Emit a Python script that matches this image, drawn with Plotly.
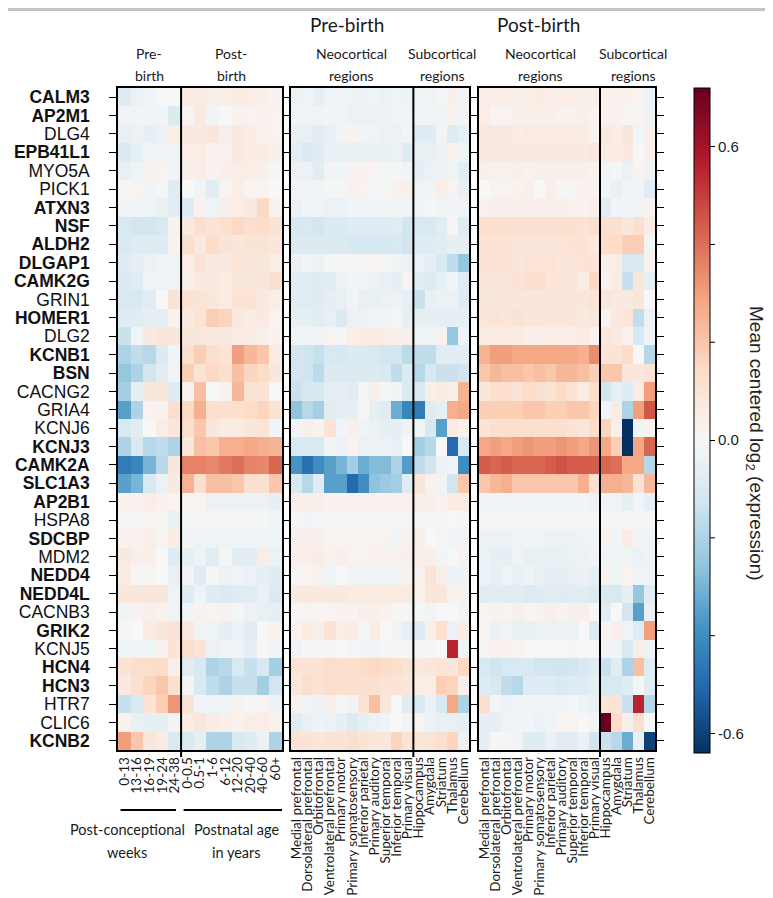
import plotly.graph_objects as go

genes = ["CALM3","AP2M1","DLG4","EPB41L1","MYO5A","PICK1","ATXN3","NSF","ALDH2","DLGAP1",
         "CAMK2G","GRIN1","HOMER1","DLG2","KCNB1","BSN","CACNG2","GRIA4","KCNJ6","KCNJ3",
         "CAMK2A","SLC1A3","AP2B1","HSPA8","SDCBP","MDM2","NEDD4","NEDD4L","CACNB3","GRIK2",
         "KCNJ5","HCN4","HCN3","HTR7","CLIC6","KCNB2"]
bold_genes = {"CALM3","AP2M1","EPB41L1","ATXN3","NSF","ALDH2","DLGAP1","CAMK2G","HOMER1",
              "KCNB1","BSN","KCNJ3","CAMK2A","SLC1A3","AP2B1","SDCBP","NEDD4","NEDD4L",
              "GRIK2","HCN4","HCN3","KCNB2"}

age_labels = ["0-13","13-16","16-19","19-24","24-38","0-0.5","0.5-1","1-6","6-12","12-20","20-40","40-60","60+"]
region_labels = ["Medial prefrontal","Dorsolateral prefrontal","Orbitofrontal","Ventrolateral prefrontal",
                 "Primary motor","Primary somatosensory","Inferior parietal","Primary auditory",
                 "Superior temporal","Inferior temporal","Primary visual",
                 "Hippocampus","Amygdala","Striatum","Thalamus","Cerebellum"]

colorbar_labels = ["-0.6", "0.0", "0.6"]
colorbar_label_values = [-0.6, 0.0, 0.6]
colorbar_minor_values = [-0.4, -0.2, 0.2, 0.4]

# Age panel: 5 post-conceptional week bins + 8 postnatal bins
age_values = [
    [-0.08,-0.04,-0.02,0.00,0.00, 0.06,0.06,0.04,0.05,0.06,0.05,0.04,0.03],
    [-0.02,-0.02,-0.02,-0.02,-0.09, 0.02,0.07,-0.02,0.00,0.03,0.02,0.03,0.02],
    [-0.05,-0.04,-0.06,-0.04,0.05, 0.07,0.07,0.08,0.04,0.07,0.06,0.03,0.02],
    [-0.09,-0.06,-0.02,-0.02,-0.03, 0.05,0.05,0.03,0.03,0.07,0.06,0.06,0.04],
    [-0.05,-0.03,0.03,0.02,-0.02, 0.04,0.05,0.03,0.04,0.05,0.05,0.04,-0.01],
    [-0.01,0.02,-0.02,-0.01,-0.08, 0.00,-0.02,-0.07,0.02,0.05,0.02,0.02,0.00],
    [-0.02,-0.02,-0.03,-0.05,-0.07, -0.08,0.02,-0.03,0.04,0.05,0.07,0.15,0.03],
    [-0.10,-0.12,-0.12,-0.10,0.03, 0.07,0.12,0.10,0.12,0.15,0.12,0.14,0.10],
    [-0.10,-0.08,-0.08,-0.08,0.03, 0.12,0.07,0.14,0.10,0.08,0.10,0.10,0.08],
    [-0.08,-0.06,-0.04,-0.03,-0.03, 0.05,0.10,0.07,0.07,0.09,0.09,0.08,0.05],
    [-0.09,-0.08,-0.03,-0.03,-0.03, 0.04,0.07,0.07,0.06,0.08,0.08,0.08,0.12],
    [-0.10,-0.10,-0.07,0.00,0.10, 0.10,0.10,0.08,0.06,0.10,0.10,0.07,0.05],
    [-0.08,-0.08,-0.06,-0.06,0.03, 0.07,0.10,0.18,0.16,0.07,0.06,0.07,0.02],
    [-0.14,-0.02,0.07,0.08,0.08, 0.08,0.08,0.07,0.07,0.06,0.06,0.04,0.03],
    [-0.20,-0.16,-0.18,-0.09,-0.02, 0.12,0.18,0.12,0.10,0.30,0.24,0.20,0.06],
    [-0.25,-0.20,-0.12,-0.07,-0.02, 0.18,0.10,0.15,0.12,0.22,0.16,0.14,0.08],
    [-0.22,-0.06,0.08,0.08,-0.08, 0.03,0.22,0.00,0.03,0.24,0.10,0.10,0.00],
    [-0.35,-0.20,0.02,0.03,0.13, 0.15,0.26,0.12,0.12,0.12,0.14,0.16,0.10],
    [-0.10,-0.07,0.00,0.05,0.08, 0.13,0.20,0.08,0.06,0.06,0.08,0.10,-0.02],
    [-0.20,-0.10,-0.18,-0.16,-0.20, 0.08,0.22,0.20,0.26,0.26,0.28,0.26,0.25],
    [-0.45,-0.42,-0.30,-0.18,0.08, 0.36,0.36,0.35,0.38,0.40,0.36,0.35,0.42],
    [-0.35,-0.30,-0.10,-0.04,0.07, 0.25,0.12,0.22,0.22,0.20,0.12,0.12,0.20],
    [0.03,0.03,0.05,0.03,0.02, 0.02,0.02,-0.04,-0.04,-0.04,-0.04,-0.04,-0.06],
    [0.01,0.01,0.02,0.01,-0.05, -0.01,-0.01,-0.01,-0.01,-0.01,-0.01,-0.01,-0.02],
    [0.03,0.03,0.05,0.02,0.06, -0.02,-0.03,-0.03,-0.03,-0.03,-0.03,-0.02,-0.03],
    [0.07,0.04,0.04,0.00,-0.08, -0.06,-0.03,-0.07,-0.01,-0.07,-0.07,0.05,-0.04],
    [0.06,0.01,0.01,0.00,-0.05, -0.02,-0.08,-0.01,-0.04,-0.03,-0.04,-0.06,-0.08],
    [0.08,0.08,0.08,0.08,-0.03, -0.08,-0.03,-0.08,-0.09,-0.08,-0.07,-0.04,-0.09],
    [-0.02,0.02,0.04,0.03,-0.03, -0.02,0.03,0.02,0.03,-0.01,-0.04,-0.05,-0.06],
    [-0.01,0.00,0.06,0.08,0.10, 0.07,-0.02,-0.03,-0.06,-0.04,-0.07,0.00,0.03],
    [-0.03,-0.03,-0.03,0.03,0.10, 0.12,0.10,-0.04,-0.03,-0.03,-0.06,0.00,-0.02],
    [0.10,0.13,0.13,0.14,0.04, -0.07,-0.10,-0.20,-0.18,-0.10,-0.15,-0.10,-0.22],
    [0.07,0.12,0.16,0.20,0.12, -0.02,-0.10,-0.16,-0.20,-0.15,-0.15,-0.22,-0.12],
    [-0.15,-0.10,0.10,0.18,0.32, 0.10,-0.02,-0.03,-0.02,0.03,-0.01,0.02,-0.04],
    [0.03,-0.05,-0.06,-0.06,-0.02, 0.06,0.08,0.06,0.04,0.03,0.05,0.05,0.03],
    [0.30,0.20,0.08,0.06,-0.10, -0.10,-0.06,-0.20,-0.20,-0.10,-0.08,-0.04,-0.20],
]

# Pre-birth regions: 11 neocortical + 5 subcortical
prebirth_values = [
    [-0.04,-0.03,-0.06,-0.03,-0.02,-0.03,-0.04,-0.03,-0.04,-0.03,-0.04, -0.03,-0.03,-0.01,0.04,-0.02],
    [-0.02,-0.02,-0.03,-0.02,-0.02,-0.04,-0.04,-0.04,-0.04,-0.03,-0.02, -0.02,-0.02,-0.02,0.03,-0.02],
    [-0.05,-0.05,-0.07,-0.05,-0.02,0.02,-0.02,-0.03,-0.04,-0.04,-0.02, -0.08,-0.08,-0.02,-0.08,-0.06],
    [-0.07,-0.09,-0.08,-0.05,-0.05,-0.05,-0.05,-0.05,-0.05,-0.04,-0.08, -0.05,-0.05,-0.04,0.03,-0.03],
    [-0.04,-0.04,-0.07,-0.02,-0.02,0.02,0.03,0.02,-0.01,-0.01,-0.02, -0.06,-0.04,-0.04,-0.03,-0.07],
    [-0.02,-0.02,-0.02,-0.01,-0.01,0.03,0.02,-0.01,-0.01,0.03,0.04, -0.03,-0.02,0.05,0.02,-0.05],
    [-0.04,-0.02,-0.02,-0.04,-0.04,-0.02,-0.02,-0.02,-0.02,-0.03,-0.02, -0.02,-0.01,-0.02,-0.02,-0.02],
    [-0.11,-0.10,-0.12,-0.09,-0.09,-0.08,-0.08,-0.08,-0.08,-0.07,-0.12, -0.10,-0.10,-0.07,0.01,-0.08],
    [-0.09,-0.09,-0.09,-0.09,-0.09,-0.10,-0.11,-0.10,-0.11,-0.10,-0.12, -0.08,-0.08,-0.07,-0.06,-0.06],
    [-0.04,-0.02,-0.04,-0.01,-0.01,-0.01,0.01,0.02,-0.01,-0.03,-0.04, -0.04,-0.06,-0.10,-0.16,-0.25],
    [-0.07,-0.07,-0.08,-0.07,-0.04,-0.02,-0.02,-0.04,-0.05,-0.06,0.01, -0.07,-0.09,-0.06,-0.02,-0.08],
    [-0.07,-0.07,-0.08,-0.06,-0.05,-0.02,-0.05,-0.05,-0.04,-0.04,-0.06, -0.14,-0.05,-0.04,-0.04,-0.08],
    [-0.06,-0.06,-0.07,-0.05,-0.09,-0.04,-0.04,-0.02,-0.03,0.01,-0.06, -0.06,-0.06,-0.06,-0.06,-0.06],
    [-0.02,-0.02,-0.02,0.02,-0.01,0.05,0.06,0.06,0.05,0.04,0.04, -0.03,-0.03,0.03,-0.25,-0.03],
    [-0.12,-0.13,-0.15,-0.10,-0.11,-0.09,-0.09,-0.10,-0.12,-0.12,-0.17, -0.16,-0.16,-0.07,-0.07,-0.07],
    [-0.12,-0.13,-0.17,-0.09,-0.09,-0.09,-0.09,-0.09,-0.10,-0.16,-0.09, -0.18,-0.10,-0.14,-0.14,-0.12],
    [-0.14,-0.11,-0.10,-0.06,-0.06,-0.07,-0.01,0.04,-0.01,-0.02,-0.09, -0.10,0.04,0.06,0.04,0.25],
    [-0.26,-0.18,-0.22,-0.07,-0.06,-0.06,-0.01,-0.06,-0.08,-0.32,-0.42, -0.45,-0.08,-0.06,0.26,0.28],
    [-0.02,0.04,0.02,0.10,-0.02,0.04,-0.03,-0.04,-0.06,-0.06,-0.03, -0.02,-0.10,-0.35,0.06,0.03],
    [-0.10,-0.10,-0.10,-0.02,-0.04,0.02,-0.04,-0.04,-0.04,-0.05,0.00, -0.22,-0.18,0.00,-0.50,-0.10],
    [-0.38,-0.48,-0.40,-0.35,-0.30,-0.22,-0.32,-0.28,-0.28,-0.20,-0.36, -0.16,-0.12,-0.04,-0.02,-0.40],
    [-0.10,-0.18,-0.08,-0.35,-0.35,-0.50,-0.40,-0.26,-0.24,-0.22,-0.08, 0.08,0.03,-0.02,-0.12,0.20],
    [0.04,0.04,0.04,0.03,0.03,0.03,0.03,0.03,0.03,0.03,0.03, 0.04,0.04,0.03,0.06,0.06],
    [-0.01,-0.02,-0.01,-0.01,-0.01,-0.01,-0.01,-0.01,-0.01,0.01,-0.01, -0.01,-0.01,-0.01,0.00,-0.01],
    [0.04,0.04,0.04,0.02,0.02,0.02,0.02,0.02,0.02,-0.03,0.03, 0.04,0.00,-0.01,-0.02,-0.02],
    [0.04,0.04,0.06,0.03,0.04,0.02,0.02,0.03,0.03,0.03,0.04, 0.04,0.04,-0.02,0.00,0.03],
    [-0.01,0.02,0.03,-0.03,0.00,-0.02,-0.02,-0.02,-0.02,-0.02,0.03, 0.03,0.10,0.04,-0.04,-0.03],
    [0.07,0.07,0.07,0.07,0.07,0.06,0.06,0.06,0.06,0.06,0.07, 0.03,0.08,0.08,0.03,0.03],
    [0.01,0.02,0.01,0.02,0.03,0.02,0.04,0.04,0.03,0.01,0.01, -0.01,-0.02,0.00,0.00,-0.02],
    [0.03,0.06,0.04,0.10,0.05,0.06,-0.01,0.06,0.00,-0.02,-0.06, -0.08,0.04,0.12,-0.04,0.06],
    [-0.03,-0.01,-0.01,-0.01,0.00,-0.01,-0.02,-0.02,-0.01,-0.01,0.01, -0.01,-0.01,0.00,0.55,-0.03],
    [0.10,0.10,0.10,0.13,0.13,0.12,0.14,0.15,0.14,0.12,0.10, 0.07,0.08,0.10,0.08,0.15],
    [0.08,0.13,0.10,0.13,0.12,0.12,0.12,0.12,0.10,0.10,0.08, 0.05,0.05,0.18,0.16,0.04],
    [0.03,-0.02,-0.04,0.04,-0.01,-0.02,0.10,0.22,0.08,0.00,-0.07, -0.10,-0.04,-0.10,0.28,-0.20],
    [-0.08,-0.05,-0.03,-0.04,-0.06,-0.09,-0.06,-0.04,-0.03,0.00,-0.02, 0.02,-0.04,-0.05,-0.05,-0.06],
    [0.10,0.10,0.08,0.10,0.10,0.12,0.10,0.08,0.08,0.16,0.10, 0.08,0.10,0.12,0.16,-0.04],
]

# Post-birth regions: 11 neocortical + 5 subcortical
postbirth_values = [
    [0.05,0.05,0.05,0.04,0.05,0.06,0.05,0.05,0.05,0.04,0.05, 0.03,0.03,0.03,0.02,-0.04],
    [0.05,0.02,0.02,0.04,0.04,0.04,0.04,0.03,0.03,0.04,0.03, 0.03,0.03,-0.01,0.02,-0.03],
    [0.07,0.07,0.07,0.06,0.07,0.06,0.06,0.06,0.06,0.06,0.03, 0.07,0.05,0.08,-0.02,0.04],
    [0.07,0.07,0.07,0.07,0.07,0.07,0.07,0.07,0.07,0.07,0.08, 0.06,0.06,0.07,0.00,0.04],
    [0.04,0.03,0.03,0.04,0.03,0.04,0.04,0.04,0.04,0.04,0.03, -0.02,-0.01,-0.04,0.02,-0.03],
    [0.00,0.02,0.02,0.03,0.04,0.00,0.04,0.01,-0.01,0.03,0.02, -0.02,-0.05,-0.02,-0.02,-0.08],
    [0.03,0.04,0.04,0.04,0.04,0.04,0.04,0.04,0.03,0.03,0.04, -0.07,-0.02,-0.02,-0.02,0.02],
    [0.12,0.12,0.12,0.12,0.12,0.12,0.12,0.12,0.12,0.11,0.12, 0.12,0.12,0.08,0.12,0.06],
    [0.11,0.10,0.10,0.09,0.09,0.09,0.09,0.09,0.10,0.10,0.07, 0.14,0.14,0.18,0.18,-0.01],
    [0.10,0.10,0.10,0.08,0.10,0.09,0.10,0.09,0.09,0.10,0.10, 0.04,0.05,-0.10,-0.10,0.03],
    [0.08,0.09,0.09,0.10,0.12,0.12,0.09,0.09,0.09,0.06,0.15, 0.03,0.06,-0.15,0.08,-0.06],
    [0.08,0.08,0.08,0.08,0.08,0.08,0.08,0.08,0.08,0.08,0.10, 0.08,0.07,0.07,0.08,0.00],
    [0.08,0.10,0.09,0.10,0.08,0.09,0.08,0.08,0.09,0.07,0.08, 0.02,0.07,0.09,-0.16,-0.04],
    [0.06,0.06,0.06,0.06,0.04,0.04,0.05,0.05,0.04,0.06,0.02, 0.08,0.07,0.03,-0.10,-0.03],
    [0.25,0.30,0.30,0.28,0.28,0.28,0.28,0.28,0.28,0.26,0.34, 0.10,0.10,0.14,0.00,-0.18],
    [0.20,0.24,0.22,0.22,0.20,0.22,0.20,0.24,0.24,0.22,0.18, 0.20,0.20,0.08,0.08,0.10],
    [0.08,0.12,0.12,0.10,0.14,0.12,0.10,0.14,0.10,0.06,0.12, -0.12,-0.06,-0.08,0.06,0.30],
    [0.18,0.18,0.18,0.18,0.20,0.20,0.18,0.18,0.20,0.20,0.16, -0.02,0.06,-0.20,0.30,0.45],
    [0.10,0.12,0.12,0.12,0.12,0.12,0.12,0.12,0.10,0.08,0.14, 0.16,0.04,-0.64,-0.02,0.02],
    [0.28,0.30,0.28,0.30,0.32,0.30,0.30,0.32,0.30,0.28,0.32, 0.28,0.18,-0.64,0.28,0.42],
    [0.44,0.42,0.44,0.42,0.42,0.42,0.44,0.46,0.44,0.44,0.44, 0.42,0.40,0.28,0.28,-0.18],
    [0.20,0.24,0.26,0.20,0.20,0.20,0.20,0.20,0.20,0.26,0.12, 0.26,0.26,0.24,0.10,0.24],
    [-0.03,-0.02,-0.02,-0.03,-0.03,-0.03,-0.03,-0.03,-0.03,-0.02,-0.04, -0.03,-0.03,-0.06,-0.02,-0.06],
    [-0.01,-0.01,-0.01,-0.01,-0.01,-0.01,-0.01,-0.01,-0.01,-0.01,-0.01, -0.01,-0.01,-0.01,-0.01,-0.01],
    [-0.04,-0.04,-0.04,-0.03,-0.02,-0.03,-0.04,-0.04,-0.04,-0.03,-0.02, 0.02,-0.02,0.06,-0.02,-0.03],
    [-0.04,-0.06,-0.06,-0.03,-0.05,-0.05,-0.05,-0.05,-0.04,-0.04,-0.03, -0.03,-0.03,-0.03,-0.04,-0.03],
    [-0.04,-0.06,-0.03,-0.05,-0.03,-0.05,-0.06,-0.06,-0.05,-0.04,-0.06, 0.03,-0.03,0.02,-0.03,-0.03],
    [-0.07,-0.07,-0.07,-0.07,-0.09,-0.08,-0.07,-0.08,-0.07,-0.07,-0.09, -0.10,-0.10,-0.06,-0.25,-0.08],
    [0.02,0.03,0.02,0.04,0.01,0.03,0.04,0.02,0.04,0.04,0.00, -0.07,0.00,-0.12,-0.35,-0.05],
    [0.01,-0.04,-0.03,-0.05,-0.05,-0.04,-0.04,-0.04,-0.04,0.00,-0.09, 0.02,0.04,-0.03,-0.08,0.30],
    [0.01,0.03,0.03,0.02,0.00,0.00,0.00,0.00,0.01,0.00,0.00, -0.02,-0.02,-0.10,0.04,-0.03],
    [-0.10,-0.13,-0.10,-0.10,-0.10,-0.12,-0.12,-0.13,-0.12,-0.10,-0.08, -0.14,-0.07,-0.20,0.22,-0.08],
    [-0.08,-0.10,-0.16,-0.18,-0.08,-0.08,-0.08,-0.10,-0.08,-0.08,-0.06, -0.10,-0.10,-0.08,-0.01,-0.08],
    [0.12,-0.02,-0.04,-0.02,-0.02,-0.02,-0.02,-0.02,-0.01,-0.03,-0.05, 0.10,0.10,-0.14,0.55,-0.18],
    [-0.06,-0.06,-0.03,-0.03,-0.02,-0.04,-0.03,0.02,0.02,0.00,-0.02, 0.72,0.14,0.04,0.12,-0.01],
    [-0.06,-0.01,-0.01,-0.02,-0.08,-0.08,-0.04,-0.07,-0.07,-0.04,-0.12, -0.14,-0.18,-0.32,-0.06,-0.60],
]

rdbu_blues = ["rgb(5,48,97)", "rgb(33,102,172)", "rgb(67,147,195)", "rgb(146,197,222)", "rgb(209,229,240)"]
rdbu_mid = "rgb(247,247,247)"
rdbu_reds = ["rgb(253,219,199)", "rgb(244,165,130)", "rgb(214,96,77)", "rgb(178,24,43)", "rgb(103,0,31)"]
ZMIN, ZMAX = -0.64, 0.72

# colorscale with white anchored at zero
f0 = -ZMIN / (ZMAX - ZMIN)
colorscale = [[f0 * k / 5, c] for k, c in enumerate(rdbu_blues)]
colorscale.append([f0, rdbu_mid])
colorscale += [[f0 + (1 - f0) * (k + 1) / 5, c] for k, c in enumerate(rdbu_reds)]

W, H = 773, 898
def px(x): return x / W
def py(y): return 1 - y / H

ydom = [py(742), py(80)]
xdoms = [[px(110), px(274)], [px(283), px(461)], [px(471), px(647)]]

CB_LEFT, CB_THICK, CB_TOP, CB_LEN = 686, 16, 80, 665

ticktext_genes = [f"<b>{g}</b>" if g in bold_genes else g for g in genes]
rows = list(range(len(genes)))

fig = go.Figure()
panels = [(age_values, age_labels), (prebirth_values, region_labels), (postbirth_values, region_labels)]
for i, (vals, labels) in enumerate(panels):
    n = i + 1
    xa = "x" if n == 1 else f"x{n}"
    ya = "y" if n == 1 else f"y{n}"
    fig.add_trace(go.Heatmap(
        z=vals, x=list(range(len(labels))), y=rows,
        xaxis=xa, yaxis=ya,
        colorscale=colorscale, zmin=ZMIN, zmax=ZMAX,
        showscale=(n == 3),
        colorbar=dict(
            x=px(CB_LEFT), xanchor="left", xpad=0, y=py(CB_TOP), yanchor="top", ypad=0,
            len=CB_LEN, lenmode="pixels", thickness=CB_THICK, thicknessmode="pixels",
            outlinewidth=1, outlinecolor="black",
            tickvals=colorbar_label_values, ticktext=colorbar_labels,
            ticks="outside", ticklen=5, tickcolor="black",
            tickfont=dict(family="Liberation Sans, Arial", size=15, color="#222"),
        ) if n == 3 else None,
    ))
    fig.update_layout(**{
        ("xaxis" if n == 1 else f"xaxis{n}"): dict(
            domain=xdoms[i], anchor=ya, range=[-0.5, len(labels) - 0.5],
            tickmode="array", tickvals=list(range(len(labels))), ticktext=labels,
            tickangle=-90, ticks="", showline=True, mirror=True, linecolor="black", linewidth=1.5,
            tickfont=dict(family="Lato", size=13.5, color="#1a1a1a"), showgrid=False, zeroline=False,
            automargin=False,
        ),
        ("yaxis" if n == 1 else f"yaxis{n}"): dict(
            domain=ydom, anchor=xa, range=[len(genes) - 0.5, -0.5],
            tickmode="array", tickvals=rows, ticktext=ticktext_genes,
            showticklabels=(n == 1), ticks="outside", ticklen=7, tickwidth=1, tickcolor="black",
            showline=True, mirror="ticks", linecolor="black", linewidth=1.5,
            tickfont=dict(family="Liberation Sans, Arial", size=17.5, color="#111"),
            ticklabelstandoff=16,
            showgrid=False, zeroline=False, automargin=False,
        ),
    })

shapes = []
# dividers within panels (pre / post, neocortical / subcortical)
for xa, xv in [("x", 4.5), ("x2", 10.5), ("x3", 10.5)]:
    shapes.append(dict(type="line", xref=xa, yref="paper", x0=xv, x1=xv,
                       y0=py(749), y1=ydom[1], line=dict(color="black", width=2)))
# group lines below age labels
for x0, x1 in [(-0.3, 4.1), (4.7, 12.6)]:
    shapes.append(dict(type="line", xref="x", yref="paper", x0=x0, x1=x1,
                       y0=py(802), y1=py(802), line=dict(color="black", width=2)))
# unlabeled colorbar ticks
for v in colorbar_minor_values:
    ty = CB_TOP + (ZMAX - v) / (ZMAX - ZMIN) * CB_LEN
    shapes.append(dict(type="line", xref="paper", yref="paper",
                       x0=px(CB_LEFT + CB_THICK), x1=px(CB_LEFT + CB_THICK + 5),
                       y0=py(ty), y1=py(ty), line=dict(color="black", width=1)))
# top grey rule
shapes.append(dict(type="line", xref="paper", yref="paper", x0=0, x1=1, y0=py(1.5), y1=py(1.5),
                   line=dict(color="#c4c4c4", width=3)))

hdr = dict(family="Lato", color="#1a1a1a")
annotations = [
    dict(text="Pre-birth", x=px(339), y=py(16), font=dict(size=19, **hdr)),
    dict(text="Post-birth", x=px(530), y=py(16), font=dict(size=19, **hdr)),
]
for xc, l1, l2 in [(141, "Pre-", "birth"), (223, "Post-", "birth"),
                   (343, "Neocortical", "regions"), (434, "Subcortical", "regions"),
                   (532, "Neocortical", "regions"), (625, "Subcortical", "regions")]:
    annotations.append(dict(text=l1, x=px(xc), y=py(45), font=dict(size=14, **hdr)))
    annotations.append(dict(text=l2, x=px(xc), y=py(67), font=dict(size=14, **hdr)))
for xc, l1, l2 in [(119, "Post-conceptional", "weeks"), (228, "Postnatal age", "in years")]:
    annotations.append(dict(text=l1, x=px(xc), y=py(821), font=dict(size=14.5, **hdr)))
    annotations.append(dict(text=l2, x=px(xc), y=py(844), font=dict(size=14.5, **hdr)))
annotations.append(dict(text="Mean centered log<sub>2</sub> (expression)", x=px(747), y=py(435), textangle=90,
                        font=dict(family="Liberation Sans, Arial", size=19, color="#222")))
for a in annotations:
    a.update(xref="paper", yref="paper", showarrow=False, xanchor="center", yanchor="middle")

fig.update_layout(
    width=W, height=H, margin=dict(l=0, r=0, t=0, b=0),
    paper_bgcolor="white", plot_bgcolor="white",
    shapes=shapes, annotations=annotations, showlegend=False,
)

fig.write_html("out.html")
